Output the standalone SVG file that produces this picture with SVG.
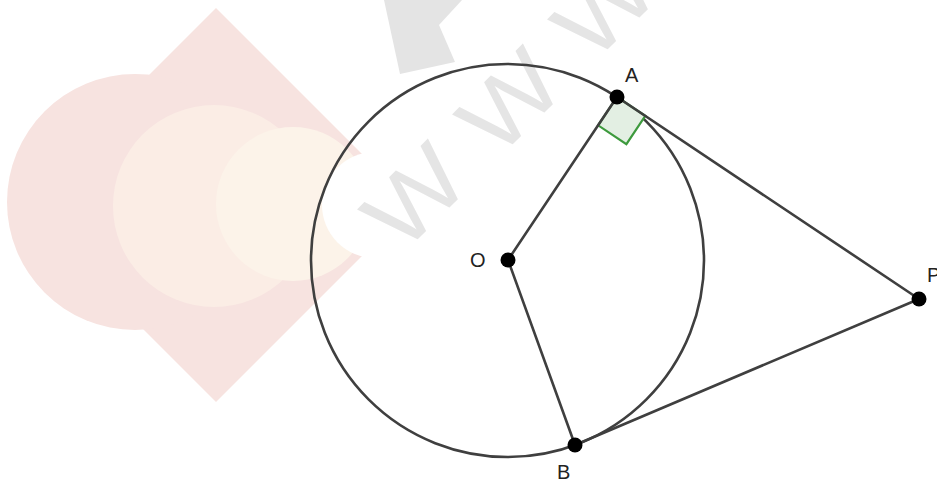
<svg xmlns="http://www.w3.org/2000/svg" width="937" height="482" viewBox="0 0 937 482">
  <style>
    .wm { font-family: "Liberation Sans", Arial, sans-serif; font-size: 100px; fill: #e5e5e5; }
    .edge { stroke: #3f3f3f; stroke-width: 2.6; fill: none; stroke-linecap: round; }
    .pt { fill: #000; }
    .lbl { font-family: "Liberation Sans", Arial, sans-serif; font-size: 20px; fill: #222; }
  </style>
  <rect width="937" height="482" fill="#ffffff"/>
  <g id="watermark">
    <path d="M216,8 L413,205 L216,402 L19,205 Z" fill="#f7e3e0"/>
    <circle cx="135" cy="202" r="128" fill="#f7e3e0"/>
    <circle cx="214" cy="206" r="101" fill="#fbede5"/>
    <circle cx="293" cy="204" r="77" fill="#fcf3e9"/>
    <circle cx="375" cy="205" r="53" fill="#ffffff"/>
    <polygon points="384,0 400,74 455,62 439,25 462,0" fill="#e4e4e4"/>
    <text class="wm" transform="translate(402,255) rotate(-45) scale(1.07,0.93)">W</text>
    <text class="wm" transform="translate(497,160) rotate(-45) scale(1.07,0.93)">W</text>
    <text class="wm" transform="translate(592,65) rotate(-45) scale(1.07,0.93)">W</text>
  </g>
  <g id="circle">
    <circle cx="507.5" cy="260.5" r="196.5" fill="none" stroke="#3f3f3f" stroke-width="2.6"/>
  </g>
  <g id="right-angle">
    <polygon points="617,97 645.3,115.9 626.4,144.2 598.1,125.3" fill="#e3efe3" stroke="#3d9a3d" stroke-width="2.2" stroke-linejoin="miter"/>
  </g>
  <g id="connectors">
    <line class="edge" x1="508" y1="260" x2="617" y2="97"/>
    <line class="edge" x1="508" y1="260" x2="575" y2="445"/>
    <line class="edge" x1="617" y1="97" x2="919" y2="299"/>
    <line class="edge" x1="575" y1="445" x2="919" y2="299"/>
  </g>
  <g id="node-O">
    <circle class="pt" cx="508" cy="260" r="7.5"/>
    <text class="lbl" x="470" y="267">O</text>
  </g>
  <g id="node-A">
    <circle class="pt" cx="617" cy="97" r="7.5"/>
    <text class="lbl" x="625" y="82">A</text>
  </g>
  <g id="node-B">
    <circle class="pt" cx="575" cy="445" r="7.5"/>
    <text class="lbl" x="557" y="479">B</text>
  </g>
  <g id="node-P">
    <circle class="pt" cx="919" cy="299" r="7.5"/>
    <text class="lbl" x="927" y="282">P</text>
  </g>
</svg>
